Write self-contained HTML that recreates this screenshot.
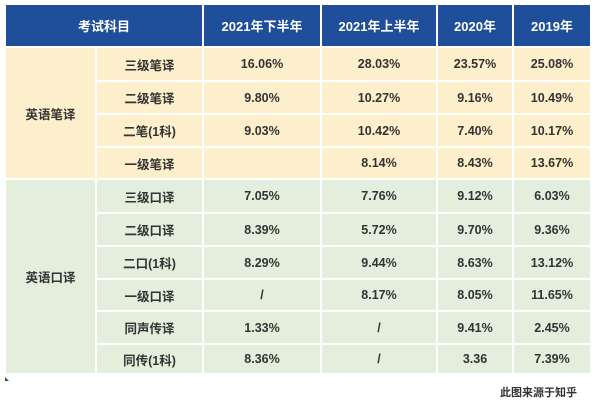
<!DOCTYPE html>
<html><head><meta charset="utf-8"><style>
body{margin:0;width:600px;height:400px;background:#fff;position:relative;overflow:hidden;font-family:"Liberation Sans","Noto Sans CJK SC",sans-serif;}
.c{position:absolute;display:flex;align-items:center;justify-content:center;font-size:12.5px;color:#333;font-weight:bold;}
.h{background:#1f4e9a;color:#fff;font-size:13px;}
.y{background:#fdefcb;}
.g{background:#e3eedd;}
.note{position:absolute;left:500px;top:384px;font-size:11px;color:#333;font-weight:bold;}
.tri{position:absolute;left:5px;top:377px;width:0;height:0;border-left:4px solid #2a5a3a;border-top:4px solid transparent;}
</style></head><body>
<div id="t"></div>
<div class="tri"></div>
<div class="note">此图来源于知乎</div>
<script>
const cols=[[6,95],[97,202],[204,320],[322,436],[438,512],[514,590]];
const headers=["考试科目","2021年下半年","2021年上半年","2020年","2019年"];
const yRows=[[48,80],[82,113],[115,146],[148,178]];
const gRows=[[180,212],[214,245],[247,278],[280,310],[312,343],[345,373]];
const writtenNames=["三级笔译","二级笔译","二笔(1科)","一级笔译"];
const writtenVals=[["16.06%","28.03%","23.57%","25.08%"],["9.80%","10.27%","9.16%","10.49%"],["9.03%","10.42%","7.40%","10.17%"],["","8.14%","8.43%","13.67%"]];
const oralNames=["三级口译","二级口译","二口(1科)","一级口译","同声传译","同传(1科)"];
const oralVals=[["7.05%","7.76%","9.12%","6.03%"],["8.39%","5.72%","9.70%","9.36%"],["8.29%","9.44%","8.63%","13.12%"],["/","8.17%","8.05%","11.65%"],["1.33%","/","9.41%","2.45%"],["8.36%","/","3.36","7.39%"]];
const T=document.getElementById('t');
function cell(x1,x2,y1,y2,cls,txt,name){
 const d=document.createElement('div');
 d.className='c '+cls;
 d.style.left=x1+'px';d.style.width=(x2-x1)+'px';d.style.top=y1+'px';d.style.height=(y2-y1)+'px';
 d.textContent=txt;
 
 
 T.appendChild(d);
}
cell(cols[0][0],cols[1][1],5,46,'h',headers[0],'header-subject');
for(let i=1;i<headers.length;i++)cell(cols[i+1][0],cols[i+1][1],5,46,'h',headers[i],'header-year');
cell(cols[0][0],cols[0][1],48,178,'y','英语笔译','group-written');
cell(cols[0][0],cols[0][1],180,373,'g','英语口译','group-oral');
yRows.forEach((r,i)=>{cell(cols[1][0],cols[1][1],r[0],r[1],'y',writtenNames[i],'subject-name');
 writtenVals[i].forEach((v,j)=>cell(cols[j+2][0],cols[j+2][1],r[0],r[1],'y',v,'rate-cell'));});
gRows.forEach((r,i)=>{cell(cols[1][0],cols[1][1],r[0],r[1],'g',oralNames[i],'subject-name');
 oralVals[i].forEach((v,j)=>cell(cols[j+2][0],cols[j+2][1],r[0],r[1],'g',v,'rate-cell'));});
</script>
</body></html>
